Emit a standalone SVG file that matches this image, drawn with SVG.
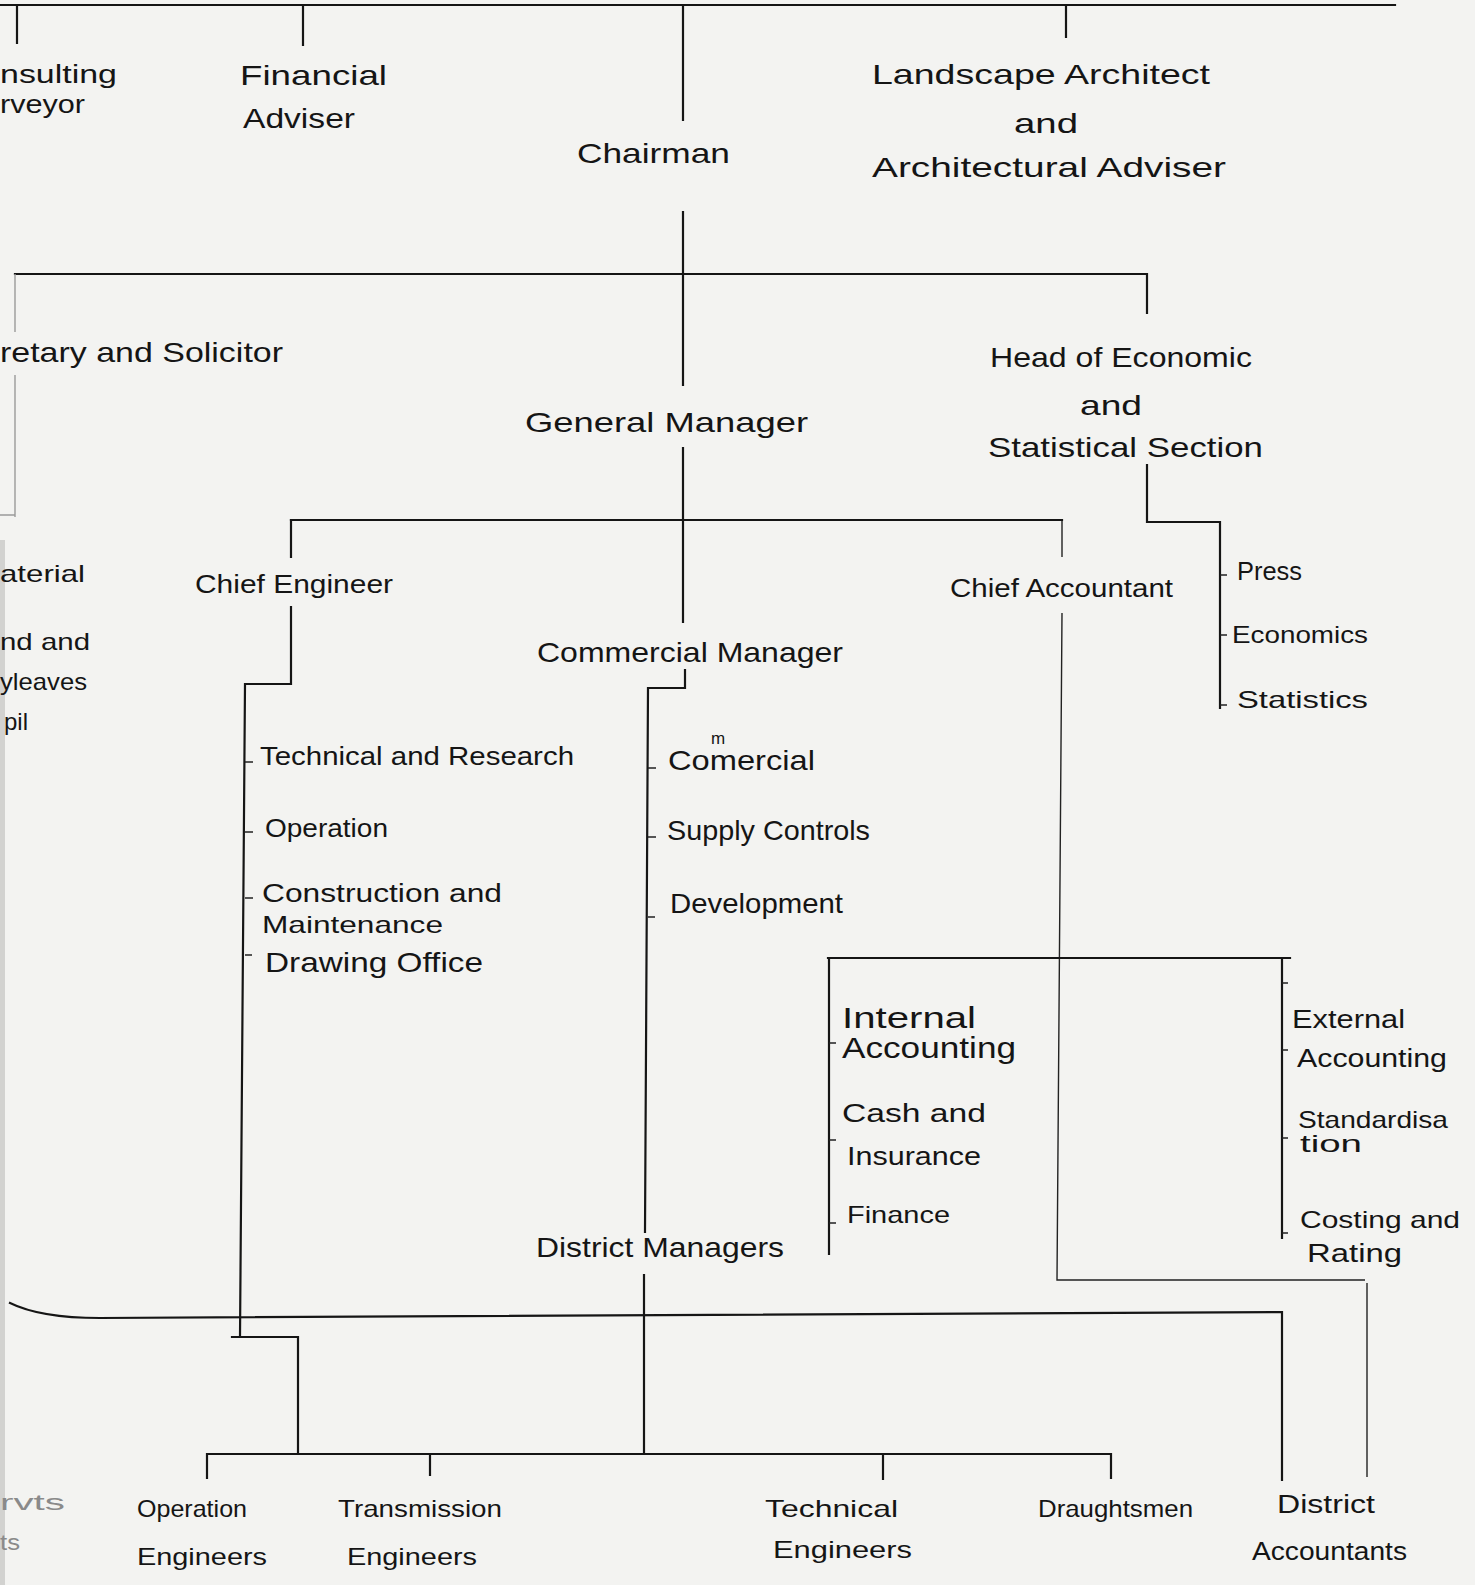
<svg xmlns="http://www.w3.org/2000/svg" width="1475" height="1585" viewBox="0 0 1475 1585">
<style>
.t{font-family:"Liberation Sans","DejaVu Sans",sans-serif;fill:#151515;font-size:28px}
.s{font-size:24px}
.m{font-size:26px}
.f{fill:#8a8a8a;font-size:22px}
.c{fill:none;stroke:#151515;stroke-width:2.2;stroke-linecap:square}
.c2{fill:none;stroke:#222;stroke-width:1.4}
.c3{fill:none;stroke:#9a9a9a;stroke-width:1.4}
</style>
<rect width="1475" height="1585" fill="#f3f3f1"/>
<rect x="0" y="540" width="5" height="1045" fill="#d2d2d0"/>
<g id="connectors">
<path class="c" d="M0,5 H1395"/>
<path class="c" d="M17,5 V43 M303,5 V45 M1066,5 V37"/>
<path class="c" d="M683,5 V120 M683,212 V385 M683,448 V622"/>
<path class="c" d="M15,274 H1147 V313"/>
<path class="c3" d="M15,274 V332 M15,375 V517 M0,515 H15"/>
<path class="c" d="M291,520 H1062"/>
<path class="c" d="M291,520 V557 M291,607 V684 H245 L240,1337 M232,1337 H298 V1454"/>
<path class="c2" d="M245,762 H253 M245,832 H253 M245,898 H253 M245,955 H252"/>
<path class="c" d="M685,670 V688 H648 L645,1232 M644,1275 V1454"/>
<path class="c2" d="M648,768 H656 M648,837 H656 M648,917 H655"/>
<path class="c" d="M1147,465 V522 H1220 V708"/>
<path class="c2" d="M1220,575 H1227 M1220,635 H1227 M1220,705 H1227"/>
<path class="c2" d="M1062,521 V557 M1062,613 L1057,1280 H1365 M1367,1283 V1477"/>
<path class="c" d="M828,958 H1290 M829,958 V1254 M1282,958 V1238"/>
<path class="c2" d="M829,1043 H836 M829,1140 H836 M829,1223 H836 M1282,983 H1288 M1282,1050 H1288 M1282,1138 H1288 M1282,1233 H1288"/>
<path class="c" d="M10,1303 Q40,1318 100,1318 L1282,1312 V1480"/>
<path class="c" d="M207,1454 H1111 M207,1454 V1478 M430,1454 V1475 M883,1454 V1479 M1111,1454 V1478"/>
</g>
<g id="consulting-surveyor">
<text class="t m" x="0" y="83" textLength="117" lengthAdjust="spacingAndGlyphs">nsulting</text>
<text class="t m" x="0" y="113" textLength="85" lengthAdjust="spacingAndGlyphs">rveyor</text>
</g>
<g id="financial-adviser">
<text class="t" x="240" y="85" textLength="147" lengthAdjust="spacingAndGlyphs">Financial</text>
<text class="t" x="243" y="128" textLength="112" lengthAdjust="spacingAndGlyphs">Adviser</text>
</g>
<g id="chairman">
<text class="t" x="577" y="163" textLength="153" lengthAdjust="spacingAndGlyphs">Chairman</text>
</g>
<g id="landscape-architect">
<text class="t" x="872" y="84" textLength="338" lengthAdjust="spacingAndGlyphs">Landscape Architect</text>
<text class="t" x="1014" y="133" textLength="64" lengthAdjust="spacingAndGlyphs">and</text>
<text class="t" x="872" y="177" textLength="354" lengthAdjust="spacingAndGlyphs">Architectural Adviser</text>
</g>
<g id="secretary-solicitor">
<text class="t" x="0" y="362" textLength="283" lengthAdjust="spacingAndGlyphs">retary and Solicitor</text>
</g>
<g id="general-manager">
<text class="t" x="525" y="432" textLength="283" lengthAdjust="spacingAndGlyphs">General Manager</text>
</g>
<g id="head-economic">
<text class="t" x="990" y="367" textLength="262" lengthAdjust="spacingAndGlyphs">Head of Economic</text>
<text class="t" x="1080" y="415" textLength="62" lengthAdjust="spacingAndGlyphs">and</text>
<text class="t" x="988" y="457" textLength="275" lengthAdjust="spacingAndGlyphs">Statistical Section</text>
</g>
<g id="left-partial">
<text class="t s" x="0" y="582" textLength="85" lengthAdjust="spacingAndGlyphs">aterial</text>
<text class="t s" x="0" y="650" textLength="90" lengthAdjust="spacingAndGlyphs">nd and</text>
<text class="t s" x="0" y="690" textLength="87" lengthAdjust="spacingAndGlyphs">yleaves</text>
<text class="t s" x="4" y="730">pil</text>
</g>
<g id="chief-engineer">
<text class="t m" x="195" y="593" textLength="198" lengthAdjust="spacingAndGlyphs">Chief Engineer</text>
</g>
<g id="chief-accountant">
<text class="t m" x="950" y="597" textLength="223" lengthAdjust="spacingAndGlyphs">Chief Accountant</text>
</g>
<g id="commercial-manager">
<text class="t" x="537" y="662" textLength="306" lengthAdjust="spacingAndGlyphs">Commercial Manager</text>
</g>
<g id="press"><text class="t m" x="1237" y="580" textLength="65" lengthAdjust="spacingAndGlyphs">Press</text></g>
<g id="economics"><text class="t s" x="1232" y="643" textLength="136" lengthAdjust="spacingAndGlyphs">Economics</text></g>
<g id="statistics"><text class="t s" x="1237" y="708" textLength="131" lengthAdjust="spacingAndGlyphs">Statistics</text></g>
<g id="technical-research"><text class="t m" x="260" y="765" textLength="314" lengthAdjust="spacingAndGlyphs">Technical and Research</text></g>
<g id="operation"><text class="t m" x="265" y="837" textLength="123" lengthAdjust="spacingAndGlyphs">Operation</text></g>
<g id="construction-maintenance">
<text class="t m" x="262" y="902" textLength="240" lengthAdjust="spacingAndGlyphs">Construction and</text>
<text class="t s" x="262" y="933" textLength="181" lengthAdjust="spacingAndGlyphs">Maintenance</text>
</g>
<g id="drawing-office"><text class="t" x="265" y="972" textLength="218" lengthAdjust="spacingAndGlyphs">Drawing Office</text></g>
<g id="commercial">
<text class="t" x="668" y="770" textLength="147" lengthAdjust="spacingAndGlyphs">Comercial</text>
<text class="t" x="711" y="744" style="font-size:17px">m</text>
</g>
<g id="supply-controls"><text class="t" x="667" y="840" textLength="203" lengthAdjust="spacingAndGlyphs">Supply Controls</text></g>
<g id="development"><text class="t" x="670" y="913" textLength="173" lengthAdjust="spacingAndGlyphs">Development</text></g>
<g id="internal-accounting">
<text class="t" x="842" y="1028" textLength="134" lengthAdjust="spacingAndGlyphs" style="font-size:30px">Internal</text>
<text class="t" x="842" y="1058" textLength="174" lengthAdjust="spacingAndGlyphs" style="font-size:30px">Accounting</text>
</g>
<g id="cash-insurance">
<text class="t m" x="842" y="1122" textLength="144" lengthAdjust="spacingAndGlyphs">Cash and</text>
<text class="t m" x="847" y="1165" textLength="134" lengthAdjust="spacingAndGlyphs">Insurance</text>
</g>
<g id="finance"><text class="t s" x="847" y="1223" textLength="103" lengthAdjust="spacingAndGlyphs">Finance</text></g>
<g id="district-managers"><text class="t" x="536" y="1257" textLength="248" lengthAdjust="spacingAndGlyphs">District Managers</text></g>
<g id="external-accounting">
<text class="t m" x="1292" y="1028" textLength="113" lengthAdjust="spacingAndGlyphs">External</text>
<text class="t m" x="1297" y="1067" textLength="150" lengthAdjust="spacingAndGlyphs">Accounting</text>
</g>
<g id="standardisation">
<text class="t s" x="1298" y="1128" textLength="150" lengthAdjust="spacingAndGlyphs">Standardisa</text>
<text class="t s" x="1300" y="1152" textLength="62" lengthAdjust="spacingAndGlyphs">tion</text>
</g>
<g id="costing-rating">
<text class="t s" x="1300" y="1228" textLength="160" lengthAdjust="spacingAndGlyphs">Costing and</text>
<text class="t m" x="1307" y="1262" textLength="95" lengthAdjust="spacingAndGlyphs">Rating</text>
</g>
<g id="operation-engineers">
<text class="t s" x="137" y="1517" textLength="110" lengthAdjust="spacingAndGlyphs">Operation</text>
<text class="t s" x="137" y="1565" textLength="130" lengthAdjust="spacingAndGlyphs">Engineers</text>
</g>
<g id="transmission-engineers">
<text class="t s" x="338" y="1517" textLength="164" lengthAdjust="spacingAndGlyphs">Transmission</text>
<text class="t s" x="347" y="1565" textLength="130" lengthAdjust="spacingAndGlyphs">Engineers</text>
</g>
<g id="technical-engineers">
<text class="t s" x="765" y="1517" textLength="133" lengthAdjust="spacingAndGlyphs">Technical</text>
<text class="t s" x="773" y="1558" textLength="139" lengthAdjust="spacingAndGlyphs">Engineers</text>
</g>
<g id="draughtsmen"><text class="t s" x="1038" y="1517" textLength="155" lengthAdjust="spacingAndGlyphs">Draughtsmen</text></g>
<g id="district-accountants">
<text class="t m" x="1277" y="1513" textLength="98" lengthAdjust="spacingAndGlyphs">District</text>
<text class="t m" x="1252" y="1560" textLength="155" lengthAdjust="spacingAndGlyphs">Accountants</text>
</g>
<g id="bottom-left-partial">
<text class="t f" x="0" y="1510" textLength="65" lengthAdjust="spacingAndGlyphs">rvts</text>
<text class="t f" x="0" y="1550" textLength="20" lengthAdjust="spacingAndGlyphs">ts</text>
</g>
</svg>
